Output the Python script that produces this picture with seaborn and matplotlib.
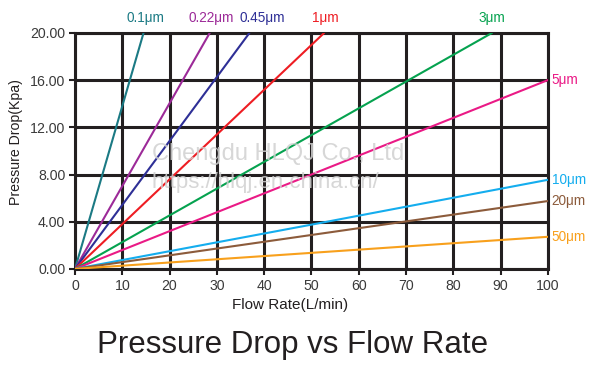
import matplotlib
matplotlib.use("Agg")
import matplotlib.pyplot as plt
import seaborn as sns
import pandas as pd

# ---- data ----
sizes = ["0.1μm", "0.22μm", "0.45μm", "1μm", "3μm", "5μm", "10μm", "20μm", "50μm"]
flow_01 = [0, 14.5];   drop_01 = [0, 20.0]
flow_022 = [0, 28.5];  drop_022 = [0, 20.0]
flow_045 = [0, 36.9];  drop_045 = [0, 20.0]
flow_1 = [0, 52.7];    drop_1 = [0, 20.0]
flow_3 = [0, 88.2];    drop_3 = [0, 20.0]
flow_5 = [0, 100];     drop_5 = [0, 16.0]
flow_10 = [0, 50, 100]; drop_10 = [0, 3.75, 7.55]
flow_20 = [0, 100];    drop_20 = [0, 5.75]
flow_50 = [0, 100];    drop_50 = [0, 2.72]
x_ticks = [0, 10, 20, 30, 40, 50, 60, 70, 80, 90, 100]
y_ticks = [0, 4, 8, 12, 16, 20]
colors = ["#1b7a84", "#9c2a98", "#2e2f96", "#ee1d23", "#05a24f", "#ea1a86",
          "#14adee", "#8c5b3b", "#f8a01c"]

flows = [flow_01, flow_022, flow_045, flow_1, flow_3, flow_5, flow_10, flow_20, flow_50]
drops = [drop_01, drop_022, drop_045, drop_1, drop_3, drop_5, drop_10, drop_20, drop_50]
rows = []
for s, fl, dr in zip(sizes, flows, drops):
    for a, b in zip(fl, dr):
        rows.append({"size": s, "flow": a, "drop": b})
df = pd.DataFrame(rows)
palette = dict(zip(sizes, colors))

sns.set_style("white")
plt.rcParams["font.family"] = ["Liberation Sans", "DejaVu Sans"]

fig = plt.figure(figsize=(6.0, 3.74), dpi=100)
ax = fig.add_axes([0.125, 0.281, 0.788, 0.631])

sns.lineplot(data=df, x="flow", y="drop", hue="size", palette=palette,
             legend=False, linewidth=1.5, sort=False, ax=ax, zorder=3)

ax.set_xlim(0, 100)
ax.set_ylim(0, 20)
ax.set_xticks(x_ticks)
ax.set_yticks(y_ticks)
ax.set_yticklabels([f"{v:.2f}" for v in y_ticks])
ax.grid(True, color="#231f20", linewidth=2.2, zorder=1)
ax.set_axisbelow(True)
for sp in ax.spines.values():
    sp.set_color("#231f20")
    sp.set_linewidth(2.2)
ax.tick_params(axis="both", direction="out", length=4, width=1.5, color="#231f20",
               labelsize=10.2, labelcolor="#3a3a3a", pad=3, left=True, bottom=True)
ax.set_xlabel("")
ax.set_ylabel("")

fig.text(0.483, 0.184, "Flow Rate(L/min)", ha="center", va="center",
         fontsize=11, color="#231f20")
fig.text(0.027, 0.62, "Pressure Drop(Kpa)", ha="center", va="center", rotation=90,
         fontsize=10.2, color="#231f20")
fig.text(0.488, 0.077, "Pressure Drop vs Flow Rate", ha="center", va="center",
         fontsize=22.5, color="#231f20")

# labels for top-ending series
top_offsets = {"0.1μm": 0.3, "0.22μm": 0.2, "0.45μm": 2.6, "1μm": 0.3, "3μm": 0.0}
for s, fl, dr, c in zip(sizes, flows, drops, colors):
    if s in top_offsets:
        ax.text(fl[-1] + top_offsets[s], 20.7, s, color=c, ha="center", va="bottom",
                fontsize=9.8, clip_on=False)
    else:
        ax.text(fl[-1] + 0.8, dr[-1], s, color=c, ha="left", va="center",
                fontsize=9.8, clip_on=False)

# watermark
ax.text(16.2, 9.7, "Chengdu HLQJ Co., Ltd", color="#d0d0d0", alpha=0.85, fontsize=17,
        ha="left", va="center", zorder=5)
ax.text(16.2, 7.3, "https://hlqj.en.china.cn/", color="#d0d0d0", alpha=0.85, fontsize=16,
        ha="left", va="center", zorder=5)

fig.savefig("out.png", dpi=100, facecolor="white")
